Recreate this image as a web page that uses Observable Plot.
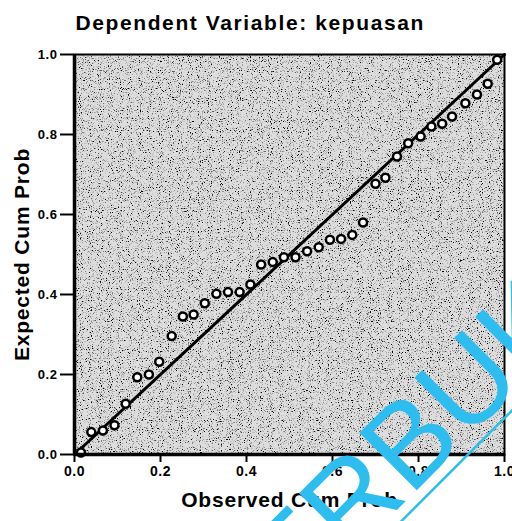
<!DOCTYPE html>
<html><head><meta charset="utf-8">
<script src="https://cdn.jsdelivr.net/npm/d3@7"></script>
<script src="https://cdn.jsdelivr.net/npm/@observablehq/plot@0.6"></script>
<style>html,body{margin:0;padding:0;background:#fff;overflow:hidden;}</style>
</head><body><div id="chart"></div>
<script>
const title = "Dependent Variable: kepuasan";
const xLabel = "Observed Cum Prob";
const yLabel = "Expected Cum Prob";
const tickValues = [0, 0.2, 0.4, 0.6, 0.8, 1.0];
const diagonal = [0, 1];
const observed = [0.015,0.039,0.066,0.093,0.119,0.146,0.173,0.197,0.226,0.252,0.277,0.303,0.330,0.357,0.384,0.409,0.434,0.461,0.487,0.514,0.541,0.568,0.594,0.620,0.646,0.671,0.700,0.723,0.750,0.776,0.805,0.830,0.855,0.878,0.909,0.936,0.961,0.983];
const expected = [0.005,0.056,0.060,0.073,0.127,0.193,0.200,0.232,0.296,0.345,0.350,0.378,0.402,0.406,0.406,0.425,0.475,0.481,0.493,0.493,0.508,0.518,0.537,0.539,0.549,0.580,0.677,0.692,0.745,0.778,0.795,0.820,0.827,0.845,0.878,0.900,0.927,0.987];
const watermark = "TERBUKA";

const points = observed.map((x, i) => ({x, y: expected[i]}));
const fmt = d3.format(".1f");
const font = "Arial, 'Liberation Sans', sans-serif";

const chart = Plot.plot({
  width: 512, height: 521,
  marginLeft: 74, marginRight: 8, marginTop: 54, marginBottom: 67,
  style: {fontFamily: font, background: "#fff", color: "#000"},
  x: {domain: [0, 1], label: null, axis: null},
  y: {domain: [0, 1], label: null, axis: null},
  marks: [
    Plot.frame({fill: "#dedede", stroke: "none"}),
    Plot.line(diagonal, {x: d => d, y: d => d, stroke: "#000", strokeWidth: 3}),
    Plot.dot(points, {x: "x", y: "y", r: 4, fill: "#fff", stroke: "#000", strokeWidth: 2.5}),
    Plot.frame({stroke: "#000", strokeWidth: 2}),
    Plot.ruleX([0], {stroke: "#000", strokeWidth: 3.5}),
    Plot.ruleY([0], {stroke: "#000", strokeWidth: 3.5}),
    Plot.axisX({ticks: tickValues, tickFormat: fmt, tickSize: 8, tickPadding: 4, fontSize: 14, fontWeight: "bold", strokeWidth: 2, label: null}),
    Plot.axisY({ticks: tickValues, tickFormat: fmt, tickSize: 14, tickPadding: 3, fontSize: 13, fontWeight: "bold", strokeWidth: 2, label: null}),
    Plot.text([xLabel], {frameAnchor: "bottom", dy: 52, fontSize: 21, fontWeight: "bold"}),
    Plot.text([yLabel], {frameAnchor: "left", textAnchor: "middle", dx: -52, rotate: -90, fontSize: 21, fontWeight: "bold"}),
    Plot.text([title], {frameAnchor: "top-left", textAnchor: "start", dx: 1, dy: -39, fontSize: 21, fontWeight: "bold"})
  ]
});
document.getElementById("chart").appendChild(chart);

const svg = d3.select(chart);
// widen letter spacing of the scanned-looking labels
svg.selectAll("text").each(function() {
  const t = this.textContent;
  if (t === title) d3.select(this).attr("letter-spacing", 1.6);
  else if (t === xLabel || t === yLabel) d3.select(this).attr("letter-spacing", 0.8);
  else if (/^\d\.\d$/.test(t)) d3.select(this).attr("letter-spacing", 0.6);
});

// grainy scanned background texture
const defs = svg.insert("defs", ":first-child");
const f = defs.append("filter").attr("id", "grain").attr("x", 0).attr("y", 0).attr("width", 1).attr("height", 1);
f.append("feTurbulence").attr("type", "fractalNoise").attr("baseFrequency", 0.9).attr("numOctaves", 2).attr("seed", 5).attr("result", "noise");
f.append("feColorMatrix").attr("in", "noise").attr("type", "matrix")
  .attr("values", "0 0 0 0 0  0 0 0 0 0  0 0 0 0 0  0 0 0 5 -2.7").attr("result", "speck");
f.append("feComposite").attr("in", "speck").attr("in2", "SourceGraphic").attr("operator", "over");
const frames = svg.selectAll('[aria-label="frame"]');
d3.select(frames.nodes()[0]).attr("filter", "url(#grain)");

// watermark (scan artifact)
const wm = svg.append("g").attr("fill", "#2dbdee").attr("stroke", "#2dbdee");
wm.append("text")
  .attr("transform", "translate(243,664) rotate(-45)")
  .attr("text-anchor", "start")
  .attr("font-family", font)
  .attr("font-size", 118)
  .attr("stroke", "none")
  .text(watermark);
wm.append("line")
  .attr("transform", "translate(243,664) rotate(-45)")
  .attr("x1", 150).attr("x2", 450).attr("y1", 11).attr("y2", 11)
  .attr("stroke-width", 2.5);
</script>
</body></html>
